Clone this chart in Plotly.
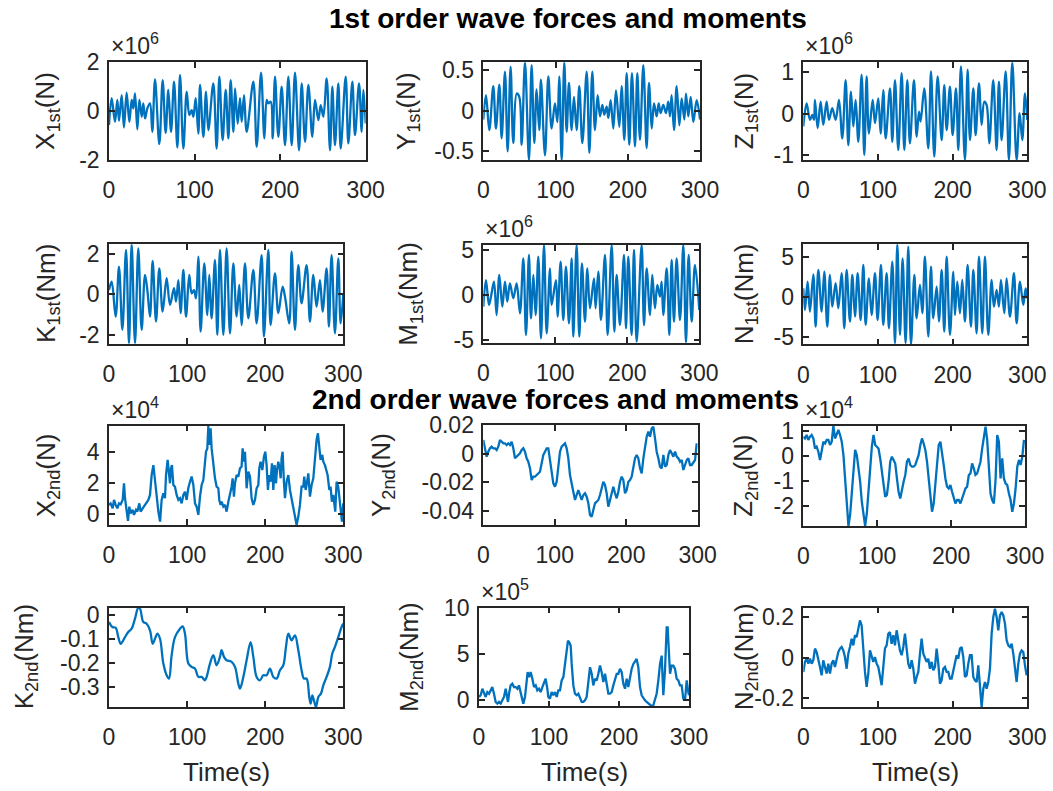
import numpy as np
import plotly.graph_objects as go

W, H = 1053, 791
FONT = "Liberation Sans, Arial, Helvetica, sans-serif"
INK = "#262626"
BLUE = "#0072BD"
TICK_SIZE, LABEL_SIZE, TITLE_SIZE = 23, 26, 28

# ---------------- 1st order wave loads: turning points of each record ----------------
t_x1 = [0, 3.1, 7.0, 9.7, 11.7, 14.8, 17.5, 20.6, 23.8, 26.5, 28.4, 30.4, 33.1, 35.5, 38.2, 40.1, 42.1, 44.8,
        47.9, 50.6, 53.8, 58.8, 62.7, 66.2, 69.3, 72.5, 76.0, 79.9, 83.0, 86.9, 90.8, 93.9, 96.6, 98.6, 101.3,
        104.4, 106.4, 110.3, 113.4, 116.1, 121.9, 125.8, 129.0, 132.8, 136.4, 139.5, 142.2, 145.3, 147.3, 150.4,
        153.1, 155.1, 157.8, 160.9, 168.7, 172.6, 177.7, 181.6, 184.3, 186.2, 189.0, 191.3, 194.0, 197.9, 201.8,
        205.7, 209.6, 213.5, 217.4, 222.1, 225.2, 229.1, 233.0, 237.6, 240.8, 244.7, 247.4, 250.5, 254.4, 258.3,
        261.0, 264.1, 268.0, 270.8, 276.6, 279.7, 284.4, 287.5, 292.2, 295.3, 297.3, 300]
x1 = [-0.58, 0.52, -0.45, 0.45, -0.41, 0.65, -0.68, 0.75, -0.45, 0.45, 0.10, 0.72, -0.76, 0.45, -0.24, 0.31,
      -0.31, 0.10, 0.31, -0.86, 1.30, -1.37, 1.27, -0.90, 0.86, -0.86, 1.20, -1.51, 1.48, -1.55, 0.79, -0.17,
      0.03, -0.24, 0.52, -0.93, 1.07, -1.07, 0.79, -0.79, 1.13, -1.55, 1.41, -1.20, 0.86, -1.13, 1.27, -0.86,
      0.93, -0.52, 0.52, -0.45, 0.65, -0.86, 1.20, -1.48, 1.57, -1.13, 0.45, 0.31, 0.38, -1.13, 1.41, -1.07,
      1.00, -1.41, 1.41, -1.41, 1.57, -1.62, 1.13, -1.27, 1.07, -1.07, 0.45, -0.38, 0.24, -0.24, 1.34, -1.62,
      1.00, -1.41, 1.13, -1.55, 1.41, -1.34, 1.20, -1.00, 1.13, -0.86, 0.86, -0.52]

t_y1 = [0, 3.7, 8.3, 13.8, 17.5, 22.2, 25.4, 30.0, 33.7, 37.8, 41.5, 46.2, 49.8, 53.1, 57.7, 63.2, 66.9, 70.6,
        73.8, 77.5, 79.8, 85.4, 90.0, 94.6, 99.2, 102.5, 105.2, 108.5, 112.1, 115.4, 118.6, 122.3, 125.5, 129.2,
        132.9, 137.1, 143.1, 146.8, 150.9, 154.6, 158.3, 161.5, 164.8, 167.5, 170.8, 173.1, 176.3, 180.0, 183.7,
        188.3, 191.5, 195.2, 198.5, 202.1, 205.8, 210.0, 213.2, 216.9, 221.5, 226.1, 229.4, 233.1, 236.3, 240.0,
        242.8, 245.5, 249.2, 252.9, 256.1, 258.4, 260.7, 264.0, 267.7, 271.4, 274.6, 278.3, 280.6, 283.8, 287.1,
        290.8, 295.4, 300]
y1 = [-0.11, 0.19, -0.24, 0.30, -0.22, 0.32, -0.34, 0.48, -0.50, 0.54, -0.40, 0.21, 0.17, -0.42, 0.594, -0.607,
      0.56, -0.40, 0.26, -0.24, 0.38, -0.55, 0.42, -0.22, 0.09, -0.14, 0.42, -0.607, 0.594, -0.26, 0.34, -0.24,
      0.17, -0.24, 0.30, -0.40, 0.48, -0.52, 0.48, -0.24, 0.19, -0.07, 0.07, -0.05, 0.05, -0.09, 0.13, -0.22,
      0.25, -0.20, 0.30, -0.36, 0.46, -0.42, 0.46, -0.44, 0.46, -0.36, 0.56, -0.46, 0.34, -0.22, 0.09, -0.07,
      0.09, -0.03, 0.07, -0.03, 0.11, -0.07, 0.19, -0.24, 0.30, -0.18, 0.15, -0.11, 0.21, -0.07, 0.17, -0.14,
      0.13, -0.11]

t_z1 = [0, 4.5, 8.9, 12.1, 14.3, 15.6, 19.2, 23.2, 26.8, 31.2, 34.4, 38.8, 43.3, 47.8, 52.2, 56.7, 60.3, 63.8,
        67.0, 70.1, 73.7, 78.1, 81.7, 84.8, 87.9, 92.9, 96.0, 100.4, 103.6, 107.1, 110.3, 116.1, 119.2, 122.8,
        127.2, 131.7, 135.3, 139.3, 142.8, 148.2, 151.8, 154.9, 157.1, 162.0, 167.4, 171.0, 175.4, 179.9, 185.3,
        188.8, 192.0, 196.4, 200.0, 204.5, 207.6, 211.1, 216.5, 220.1, 223.2, 227.7, 230.8, 235.3, 238.8, 242.4,
        245.5, 249.1, 254.4, 258.9, 262.0, 265.6, 271.0, 275.4, 279.9, 285.7, 289.7, 293.3, 296.9, 300]
z1 = [-0.31, 0.25, -0.15, -0.03, -0.15, 0.33, -0.35, 0.29, -0.27, 0.29, -0.15, 0.13, -0.15, 0.33, -0.60, 0.81,
      -0.76, 0.53, -0.31, 0.33, -0.68, 0.94, -1.00, 0.90, -0.48, 0.33, -0.23, 0.37, -0.48, 0.57, -0.60, 0.61,
      -0.68, 0.81, -0.88, 0.98, -0.88, 0.81, -0.72, 0.81, -0.56, 0.05, -0.19, 0.61, -0.84, 1.02, -1.04, 0.90,
      -0.64, 0.69, -0.40, 0.65, -0.52, 0.61, -0.88, 1.14, -1.12, 1.06, -0.64, 0.61, -0.52, 0.73, -0.27, 0.29,
      0.21, -0.72, 0.81, -0.88, 0.77, -0.64, 1.02, -1.12, 1.24, -1.12, 0.01, -0.64, 0.49, -0.15]

t_k1 = [0, 3.4, 8.5, 12.8, 17.1, 21.8, 25.6, 29.0, 33.3, 37.5, 41.8, 46.1, 49.1, 52.5, 55.9, 60.2, 64.4, 68.7,
        73.8, 78.1, 83.2, 85.8, 88.8, 91.7, 95.2, 98.6, 102.8, 105.8, 108.8, 111.4, 114.4, 117.3, 122.0, 125.9,
        128.4, 131.4, 135.7, 138.7, 142.1, 146.4, 150.6, 154.9, 159.2, 163.4, 166.8, 169.8, 174.1, 178.4, 184.8,
        189.0, 195.4, 198.4, 204.0, 206.9, 212.5, 216.8, 222.3, 225.3, 230.8, 233.8, 238.1, 242.4, 246.6, 253.0,
        257.3, 261.6, 265.8, 270.1, 273.5, 278.6, 281.6, 285.0, 289.3, 293.6, 296.6, 300]
k1 = [0.21, 0.62, -1.10, 1.36, -1.75, 2.18, -2.41, 2.46, -2.41, 2.26, -1.75, 0.95, 0.21, -1.10, 1.64, -1.34,
      1.28, -0.85, 0.79, -0.52, 0.30, -0.36, 0.70, -0.93, 1.20, -1.10, 0.95, 0.05, 0.21, -0.20, 1.85, -1.84,
      1.52, -1.02, 0.95, -1.18, 1.69, -2.00, 2.18, -2.00, 2.26, -1.92, 1.52, -1.10, 0.46, -1.51, 1.52, -1.18,
      1.20, -1.43, 1.93, -2.08, 2.18, -1.51, 1.03, -0.93, 0.38, -0.11, -1.43, 2.10, -1.75, 1.44, -0.44, 1.44,
      -1.34, 0.95, -0.61, 0.70, -0.85, 1.28, -1.59, 1.93, -1.92, 1.77, -1.43, 0.05]

t_m1 = [0, 3.7, 7.9, 11.1, 14.8, 18.5, 22.2, 26.4, 30.1, 33.3, 37.0, 41.7, 46.3, 50.9, 55.6, 59.3, 63.4, 66.2,
        69.5, 72.7, 76.4, 80.1, 84.3, 88.0, 92.6, 94.9, 100.9, 103.2, 107.4, 111.1, 114.8, 119.0, 122.7, 125.0,
        129.6, 133.3, 137.0, 141.2, 144.5, 148.2, 153.7, 156.0, 159.7, 163.4, 169.0, 172.7, 178.3, 182.0, 185.2,
        189.8, 195.4, 198.2, 201.4, 206.0, 209.3, 213.0, 219.9, 223.2, 226.9, 231.5, 234.7, 238.4, 241.7, 245.4,
        247.7, 250.0, 254.7, 258.4, 261.6, 264.8, 268.5, 273.2, 277.8, 281.5, 285.2, 289.4, 294.0, 300]
m1 = [-1.26, 1.70, -1.07, 0.04, 1.52, -2.19, 2.26, -1.26, 1.52, -0.70, 1.33, -0.33, 1.33, -2.00, 4.11, -4.41,
      4.48, -2.56, 2.26, -2.19, 4.30, -4.78, 5.59, -4.22, 3.00, -1.07, 1.70, -2.37, 3.74, -2.74, 3.19, -3.11,
      4.11, -4.59, 5.59, -4.59, 3.56, -2.93, 3.00, -1.44, 1.89, -1.44, 2.63, -2.74, 4.48, -4.41, 5.59, -4.04,
      2.26, -3.30, 4.48, -3.67, 4.30, -4.41, 5.04, -5.15, 5.59, -3.30, 3.00, -2.19, 2.26, -1.44, 1.15, -0.15,
      1.52, -2.19, 3.00, -4.41, 3.93, -2.93, 4.11, -2.74, 5.59, -5.26, 4.48, -2.93, 3.37, -1.63]

t_n1 = [0, 2.2, 5.8, 8.9, 13.4, 16.5, 20.1, 24.6, 28.1, 32.1, 35.7, 38.8, 43.3, 46.9, 51.3, 54.9, 58.0, 62.5,
        65.6, 69.2, 72.8, 76.8, 80.4, 83.5, 87.9, 91.5, 96.0, 99.5, 104.0, 107.1, 111.6, 114.7, 119.2, 122.8,
        125.9, 129.5, 133.0, 137.0, 140.6, 144.2, 148.7, 151.8, 156.2, 159.4, 162.9, 167.4, 171.0, 174.1, 178.6,
        181.7, 185.3, 188.8, 192.0, 196.4, 200.9, 203.1, 206.2, 209.8, 212.9, 216.5, 220.1, 224.5, 227.7, 232.1,
        235.3, 239.7, 243.3, 247.7, 252.2, 255.3, 258.9, 262.0, 264.7, 269.2, 272.3, 276.8, 282.1, 285.7, 290.2,
        294.6, 297.8, 300]
n1 = [1.08, -1.63, 1.92, -1.83, 2.83, -3.71, 3.38, -1.83, 3.17, -3.71, 2.75, -1.21, 1.71, -1.42, 2.96, -3.92,
      3.38, -3.08, 2.75, -2.46, 2.96, -2.88, 4.00, -3.50, 2.33, -2.25, 2.96, -2.88, 4.00, -3.50, 2.96, -3.92,
      4.42, -5.79, 6.58, -4.75, 4.83, -5.79, 6.29, -5.92, 2.75, -2.67, 1.50, -2.04, 5.04, -4.96, 3.79, -2.67,
      1.29, -3.08, 3.38, -4.33, 5.04, -4.75, 3.17, -2.25, 1.92, -2.04, 2.13, -3.08, 4.00, -3.71, 3.38, -4.54,
      5.04, -4.54, 5.04, -4.75, 2.13, -1.21, 0.88, -1.21, 2.13, -2.04, 2.33, -2.46, 2.96, -3.29, 1.92, -1.00,
      1.08, -0.17]

# ---------------- 2nd order (slow-drift) wave loads ----------------
t_x2 = [0.0, 2.1, 4.7, 6.4, 8.5, 10.7, 12.8, 14.9, 17.5, 19.2, 20.5, 22.6, 24.3, 26.0, 27.7, 30.3, 32.0, 34.6,
        36.3, 38.8, 40.5, 43.1, 46.1, 48.2, 50.4, 52.5, 54.6, 56.8, 58.9, 61.0, 63.2, 65.4, 67.4, 69.6, 71.7,
        73.0, 75.1, 76.8, 78.1, 79.4, 80.6, 82.4, 84.5, 86.6, 88.8, 90.9, 93.0, 95.2, 97.3, 99.4, 101.5, 103.7,
        105.8, 108.0, 110.1, 112.2, 114.4, 116.5, 118.6, 120.8, 122.9, 124.2, 125.9, 127.2, 128.4, 130.1, 131.4,
        133.6, 135.7, 137.8, 140.0, 141.2, 142.9, 144.2, 146.4, 148.5, 150.6, 152.8, 154.9, 157.0, 158.3, 160.0,
        161.3, 163.4, 165.6, 167.7, 169.8, 171.1, 172.8, 174.1, 175.4, 176.2, 178.4, 180.5, 182.6, 184.8, 186.9,
        189.0, 191.2, 192.4, 194.1, 196.3, 198.4, 200.1, 201.8, 203.5, 205.2, 206.9, 208.7, 210.4, 212.1, 213.8,
        215.1, 216.8, 218.5, 219.8, 221.0, 222.3, 224.0, 225.3, 227.4, 229.6, 231.7, 233.8, 236.0, 238.1, 240.2,
        242.4, 244.5, 246.6, 248.8, 250.0, 251.8, 253.0, 255.2, 257.3, 259.4, 261.6, 263.7, 265.8, 267.5, 269.2,
        270.9, 273.1, 274.4, 276.5, 278.6, 279.9, 282.1, 283.7, 285.4, 287.2, 289.7, 291.4, 293.5, 294.8, 296.6,
        298.3, 300.0]
x2 = [0.58, 0.68, 0.36, 0.90, 0.58, 0.36, 0.68, 0.62, 0.90, 1.97, 1.01, -0.06, -0.45, 0.47, 0.04, 0.26, -0.06,
      0.26, 0.15, 0.68, 0.15, 0.36, 0.58, 0.68, 0.90, 1.22, 2.50, 3.14, 2.07, 0.90, 0.15, -0.49, 0.90, 1.33,
      1.01, 2.50, 3.47, 2.61, 1.97, 2.93, 3.14, 1.86, 1.75, 1.22, 0.90, 1.01, 0.68, 1.22, 1.43, 0.90, 1.65,
      2.07, 2.40, 1.86, 0.68, 0.47, -0.06, 1.11, 1.86, 2.18, 3.36, 4.00, 4.21, 5.67, 4.43, 5.50, 4.21, 3.14,
      2.29, 1.75, 1.65, 0.90, 0.58, 0.79, 0.47, 0.58, 0.15, 0.79, 1.22, 1.75, 2.29, 1.11, 1.97, 2.50, 2.40,
      2.93, 3.04, 4.21, 3.36, 4.00, 2.72, 1.65, 2.72, 2.40, 1.01, 0.58, 0.90, 1.65, 1.86, 2.93, 3.36, 2.82,
      3.68, 4.00, 3.14, 1.54, 2.50, 2.07, 3.25, 1.54, 3.14, 1.97, 2.82, 3.36, 2.93, 2.29, 3.57, 4.00, 2.07,
      1.01, 2.07, 2.50, 1.54, 1.01, 0.36, -0.28, -0.71, -0.17, 0.58, 1.75, 1.75, 2.40, 1.54, 1.86, 2.61, 1.11,
      1.86, 2.29, 3.79, 4.75, 5.18, 4.00, 3.47, 3.79, 3.36, 3.14, 2.61, 2.50, 1.54, 1.75, 0.79, 1.22, 0.15,
      2.07, 1.75, 1.22, 0.15, -0.49, 0.68]

# Y2nd, Z2nd and N2nd are read on an even time grid
y2 = [0.0095, 0.0025, -0.0022, 0.0013, 0.0037, 0.0048, 0.0037, 0.0037, 0.0025, 0.0048,
      0.0095, 0.0083, 0.0072, 0.0072, 0.0060, 0.0072, 0.0060, 0.0083, 0.0037, -0.0033,
      -0.0022, -0.0010, 0.0002, 0.0025, 0.0037, 0.0013, -0.0033, -0.0057, -0.0103, -0.0185,
      -0.0162, -0.0162, -0.0150, -0.0138, -0.0127, -0.0068, -0.0010, 0.0013, 0.0037, 0.0037,
      -0.0033, -0.0127, -0.0208, -0.0232, -0.0197, -0.0080, 0.0013, 0.0048, 0.0060, 0.0072,
      0.0037, -0.0033, -0.0150, -0.0220, -0.0267, -0.0325, -0.0290, -0.0255, -0.0290, -0.0325,
      -0.0290, -0.0278, -0.0302, -0.0348, -0.0430, -0.0442, -0.0395, -0.0348, -0.0337, -0.0325,
      -0.0290, -0.0243, -0.0197, -0.0220, -0.0278, -0.0372, -0.0325, -0.0278, -0.0232, -0.0278,
      -0.0313, -0.0267, -0.0197, -0.0162, -0.0185, -0.0278, -0.0255, -0.0197, -0.0185, -0.0162,
      -0.0103, -0.0033, -0.0010, -0.0033, -0.0103, -0.0138, -0.0033, 0.0060, 0.0118, 0.0153,
      0.0118, 0.0177, 0.0188, 0.0107, 0.0013, -0.0033, -0.0092, -0.0103, -0.0010, -0.0092,
      -0.0080, -0.0010, 0.0025, 0.0002, -0.0022, 0.0013, -0.0022, -0.0033, -0.0057, -0.0045,
      -0.0115, -0.0080, -0.0045, -0.0033, -0.0080, -0.0080, -0.0057, -0.0045, 0.0072]
t_y2 = np.linspace(0, 298.6, len(y2))

z2 = [0.76, 0.69, 0.83, 0.63, 0.76, 0.83, 0.69, 0.29, 0.36, 0.16,
      -0.17, 0.29, 0.56, 0.49, 0.63, 0.63, 0.43, 0.56, 1.19, 0.69,
      0.83, 1.03, 0.83, 0.56, 0.03, -0.91, -1.97, -2.81, -2.37, -1.44,
      -0.57, 0.23, 0.03, -0.51, -1.04, -1.84, -2.31, -2.81, -2.31, -1.44,
      -0.51, 0.36, 0.83, 0.43, 0.36, 0.29, -0.11, -0.64, -1.17, -1.64,
      -1.57, -1.04, -0.24, -0.04, -0.17, -0.31, -0.91, -1.44, -1.71, -1.31,
      -1.04, -0.77, -0.24, -0.11, -0.37, -0.44, -0.44, -0.37, -0.11, 0.03,
      0.43, 0.69, 0.49, 0.23, -0.24, -0.91, -1.77, -2.24, -1.91, -1.04,
      -0.24, 0.43, 0.56, 0.16, -0.37, -0.91, -1.24, -1.31, -1.17, -1.44,
      -1.71, -1.91, -1.77, -1.77, -1.91, -1.71, -1.57, -1.31, -1.24, -0.77,
      -0.71, -0.31, -0.51, -0.77, -0.71, -0.51, -0.24, 0.29, 0.83, 1.16,
      0.63, -0.37, -1.51, -1.77, -1.91, -0.97, 0.83, 0.56, -0.91, -0.11,
      -0.91, -1.11, -1.17, -1.51, -1.77, -2.24, -1.91, -1.31, -0.44, -0.17,
      -0.37, -0.04, 0.63]
t_z2 = np.linspace(0, 298.6, len(z2))

t_k2 = [0, 4.3, 8.5, 11.9, 14.9, 20.5, 24.7, 29.0, 33.3, 37.5, 39.7, 43.9, 48.2, 52.5, 55.9, 58.9, 61.9, 65.3,
        69.6, 73.8, 76.8, 80.2, 84.5, 90.9, 94.3, 97.3, 101.6, 105.8, 110.1, 114.4, 118.6, 122.9, 125.0, 129.3,
        133.6, 137.8, 142.1, 144.2, 147.2, 150.6, 157.0, 161.3, 165.6, 167.7, 172.0, 176.2, 181.3, 184.8, 189.0,
        193.3, 197.6, 201.8, 206.1, 210.4, 214.6, 218.9, 223.2, 226.6, 229.6, 233.8, 238.1, 242.4, 246.6, 249.6,
        253.0, 256.4, 258.2, 260.3, 262.4, 265.0, 268.0, 271.4, 274.4, 278.6, 282.9, 285.9, 289.3, 293.6, 297.8, 300]
k2 = [-0.028, -0.049, -0.052, -0.091, -0.119, -0.091, -0.070, -0.056, -0.014, 0.032, 0.028, -0.028, -0.035,
      -0.063, -0.119, -0.098, -0.077, -0.098, -0.202, -0.251, -0.265, -0.167, -0.091, -0.056, -0.046, -0.077,
      -0.202, -0.216, -0.223, -0.258, -0.258, -0.272, -0.258, -0.202, -0.167, -0.209, -0.174, -0.146, -0.174,
      -0.188, -0.195, -0.216, -0.286, -0.307, -0.258, -0.188, -0.112, -0.174, -0.258, -0.272, -0.251, -0.251,
      -0.223, -0.258, -0.265, -0.230, -0.209, -0.132, -0.077, -0.105, -0.084, -0.146, -0.230, -0.265, -0.265,
      -0.342, -0.370, -0.335, -0.356, -0.384, -0.342, -0.328, -0.293, -0.258, -0.216, -0.160, -0.132, -0.091,
      -0.049, -0.035]

t_m2 = [0, 2.4, 4.8, 7.1, 9.5, 11.9, 14.3, 16.7, 19.0, 21.4, 23.8, 26.2, 28.6, 31.0, 33.3, 35.7, 38.1, 39.5,
        41.4, 43.3, 45.2, 47.6, 50.0, 52.4, 54.8, 57.1, 59.5, 61.0, 63.3, 65.7, 68.1, 69.5, 71.4, 73.8, 76.2,
        78.6, 81.0, 83.3, 85.7, 88.1, 90.5, 92.9, 95.2, 97.6, 99.0, 101.4, 103.8, 106.2, 108.6, 111.0, 113.3,
        115.7, 118.1, 120.5, 122.9, 125.2, 127.1, 129.0, 131.0, 132.4, 134.8, 137.1, 139.5, 141.9, 144.3, 146.7,
        149.0, 151.4, 153.8, 156.2, 158.6, 161.0, 163.3, 165.7, 168.1, 170.5, 172.9, 175.2, 177.6, 180.0, 182.4,
        184.8, 187.1, 189.5, 191.9, 194.3, 196.7, 199.0, 201.4, 203.8, 206.2, 208.6, 211.0, 213.3, 215.7, 218.1,
        220.5, 222.9, 225.2, 227.6, 230.0, 232.4, 234.8, 237.1, 239.5, 241.9, 244.3, 246.7, 249.0, 251.4, 253.8,
        256.2, 258.6, 261.0, 263.3, 265.7, 268.1, 269.5, 271.4, 272.9, 275.2, 277.6, 280.0, 282.4, 284.8, 287.1,
        289.5, 291.9, 294.3, 296.7, 299.0, 300]
m2 = [0.36, 0.54, 1.25, 0.71, 0.36, 0.89, 0.71, 1.07, 1.43, 0.71, -0.18, -0.36, -0.18, -0.36, 0.0, 0.36, 1.25,
      0.36, -0.18, 0.89, 1.61, 1.79, 1.43, 1.43, 1.25, 1.61, 0.89, 0.18, -0.36, 0.36, 1.96, 3.04, 2.50, 3.04,
      2.32, 1.43, 1.61, 1.07, 1.25, 0.89, 1.43, 1.96, 2.32, 1.25, 0.36, 0.18, 0.89, 0.54, 0.89, 0.36, 1.07,
      1.07, 2.14, 2.50, 3.75, 5.00, 6.43, 6.25, 5.89, 3.93, 1.61, 0.71, 0.54, 0.71, 0.18, -0.18, -0.18, 0.0,
      0.36, 1.96, 3.57, 2.86, 1.61, 2.32, 2.14, 2.86, 3.75, 3.04, 1.96, 2.86, 1.61, 0.71, 0.71, 0.89, 1.61,
      2.14, 2.86, 2.86, 3.39, 3.04, 1.79, 1.25, 2.32, 1.43, 2.50, 3.39, 3.93, 4.29, 4.46, 3.57, 1.43, 0.54,
      0.18, 0.0, -0.18, -0.36, -0.54, -0.64, -0.54, 0.0, 0.71, 2.14, 3.93, 4.82, 0.54, 3.21, 7.86, 7.86, 5.36,
      2.86, 3.75, 3.75, 3.39, 2.32, 2.14, 1.61, 1.61, 0.18, 0.0, 2.14, 0.89, 0.54]

n2 = [-0.071, -0.021, -0.005, -0.030, -0.005, -0.030, -0.013, 0.045, 0.028, -0.005,
      -0.046, -0.088, -0.013, -0.046, -0.079, -0.030, -0.079, -0.030, -0.013, -0.046,
      -0.005, 0.028, 0.045, 0.053, 0.036, 0.003, -0.055, 0.020, 0.053, 0.094,
      0.061, 0.111, 0.102, 0.144, 0.185, 0.160, 0.036, -0.071, -0.145, -0.079,
      0.036, 0.012, -0.021, 0.003, -0.030, -0.046, -0.096, -0.137, -0.046, 0.045,
      0.061, 0.119, 0.127, 0.069, 0.111, 0.061, 0.136, 0.086, 0.036, 0.012,
      0.053, 0.119, 0.053, -0.030, -0.055, -0.013, -0.055, -0.129, -0.096, -0.071,
      0.020, 0.094, 0.020, -0.005, -0.021, -0.005, -0.055, -0.021, -0.063, -0.046,
      0.045, -0.030, -0.129, -0.112, -0.055, -0.046, -0.071, -0.071, -0.104, -0.104,
      -0.063, -0.021, 0.012, -0.005, 0.045, 0.053, 0.003, -0.096, -0.088, -0.030,
      0.012, 0.012, -0.096, -0.112, -0.121, -0.038, -0.129, -0.245, -0.154, -0.121,
      -0.154, -0.121, -0.055, 0.119, 0.202, 0.243, 0.202, 0.136, 0.210, 0.226,
      0.210, 0.169, 0.086, 0.061, 0.053, 0.069, 0.020, -0.071, -0.121, -0.030,
      0.020, 0.036, 0.028, -0.038, -0.088]
t_n2 = np.linspace(0, 299.1, len(n2))

T_TICKS = [0, 100, 200, 300]

# panel layout: box = (left, right, top, bottom) in pixels
panels = [
    dict(t=t_x1, y=x1, box=(109, 365.7, 62.3, 159.5), yr=[-2, 2], yt=[-2, 0, 2],
         lab="X<sub>1st</sub>(N)", lx=47, exp="6", smooth=True),
    dict(t=t_y1, y=y1, box=(483.3, 700, 62.3, 160), yr=[-0.607, 0.594], yt=[-0.5, 0, 0.5],
         lab="Y<sub>1st</sub>(N)", lx=407, exp=None, smooth=True),
    dict(t=t_z1, y=z1, box=(803.3, 1027.3, 62.3, 160), yr=[-1.12, 1.24], yt=[-1, 0, 1],
         lab="Z<sub>1st</sub>(N)", lx=745, exp="6", smooth=True),
    dict(t=t_k1, y=k1, box=(109, 343.3, 244.3, 343.7), yr=[-2.43, 2.46], yt=[-2, 0, 2],
         lab="K<sub>1st</sub>(Nm)", lx=47, exp=None, smooth=True),
    dict(t=t_m1, y=m1, box=(483.3, 699.3, 245, 342.7), yr=[-5.26, 5.59], yt=[-5, 0, 5],
         lab="M<sub>1st</sub>(Nm)", lx=410, exp="6", smooth=True),
    dict(t=t_n1, y=n1, box=(803.3, 1027.3, 244.3, 344.3), yr=[-5.92, 6.58], yt=[-5, 0, 5],
         lab="N<sub>1st</sub>(Nm)", lx=745, exp=None, smooth=True),
    dict(t=t_x2, y=x2, box=(109, 343.3, 425.7, 525), yr=[-0.71, 5.67], yt=[0, 2, 4],
         lab="X<sub>2nd</sub>(N)", lx=47, exp="4", smooth=False),
    dict(t=t_y2, y=y2, box=(483.3, 697.7, 425, 525), yr=[-0.05, 0.02], yt=[-0.04, -0.02, 0, 0.02],
         lab="Y<sub>2nd</sub>(N)", lx=382, exp=None, smooth=False),
    dict(t=t_z2, y=z2, box=(803.3, 1025, 425.7, 526), yr=[-2.81, 1.2], yt=[-2, -1, 0, 1],
         lab="Z<sub>2nd</sub>(N)", lx=745, exp="4", smooth=False),
    dict(t=t_k2, y=k2, box=(109, 343.3, 607.7, 707), yr=[-0.384, 0.032], yt=[-0.3, -0.2, -0.1, 0],
         lab="K<sub>2nd</sub>(Nm)", lx=25, exp=None, smooth=True),
    dict(t=t_m2, y=m2, box=(479, 689, 607.7, 706.3), yr=[-0.65, 10], yt=[0, 5, 10],
         lab="M<sub>2nd</sub>(Nm)", lx=410, exp="5", smooth=False),
    dict(t=t_n2, y=n2, box=(803.3, 1027.3, 607.7, 707), yr=[-0.245, 0.248], yt=[-0.2, 0, 0.2],
         lab="N<sub>2nd</sub>(Nm)", lx=745, exp=None, smooth=False),
]


def label(v):
    return "%g" % v


axis_style = dict(showline=True, linecolor=INK, linewidth=1.5, mirror="ticks", ticks="inside",
                  ticklen=6, tickwidth=1.5, tickcolor=INK, showgrid=False, zeroline=False,
                  automargin=False, fixedrange=True,
                  tickfont=dict(family=FONT, size=TICK_SIZE, color=INK))

fig = go.Figure()
layout = dict(width=W, height=H, autosize=False, margin=dict(l=0, r=0, t=0, b=0, pad=0),
              paper_bgcolor="white", plot_bgcolor="white", showlegend=False, annotations=[])


def txt(text, x, y, size, angle=0, xa="center", ya="middle", color=INK):
    return dict(text=text, x=x / W, y=1 - y / H, xref="paper", yref="paper", showarrow=False,
                textangle=angle, xanchor=xa, yanchor=ya,
                font=dict(family=FONT, size=size, color=color))


for i, p in enumerate(panels, start=1):
    sfx = "" if i == 1 else str(i)
    x0, x1_, y0, y1_ = p["box"]
    layout["xaxis" + sfx] = dict(domain=[x0 / W, x1_ / W], anchor="y" + sfx, range=[0, 300],
                                 tickvals=T_TICKS, ticktext=[label(v) for v in T_TICKS],
                                 ticklabelstandoff=9, **axis_style)
    layout["yaxis" + sfx] = dict(domain=[1 - y1_ / H, 1 - y0 / H], anchor="x" + sfx, range=p["yr"],
                                 tickvals=p["yt"], ticktext=[label(v) for v in p["yt"]],
                                 ticklabelstandoff=3, **axis_style)
    line = dict(color=BLUE, width=2.3)
    if p["smooth"]:
        line.update(shape="spline", smoothing=1.0)
    fig.add_trace(go.Scatter(x=p["t"], y=p["y"], mode="lines", line=line, hoverinfo="skip",
                             xaxis="x" + sfx, yaxis="y" + sfx))
    layout["annotations"].append(txt(p["lab"], p["lx"], (y0 + y1_) / 2, LABEL_SIZE, angle=-90))
    if p["exp"]:
        layout["annotations"].append(txt("\u00d710<sup>%s</sup>" % p["exp"], x0, y0 - 1, TICK_SIZE,
                                         xa="left", ya="bottom"))
    if i > 9:
        layout["annotations"].append(txt("Time(s)", (x0 + x1_) / 2, 772, LABEL_SIZE))

layout["annotations"].append(txt("<b>1st order wave forces and moments</b>", 568, 18, TITLE_SIZE,
                                 color="black"))
layout["annotations"].append(txt("<b>2nd order wave forces and moments</b>", 555, 400, TITLE_SIZE,
                                 color="black"))

fig.update_layout(**layout)
fig.write_html("out.html")
